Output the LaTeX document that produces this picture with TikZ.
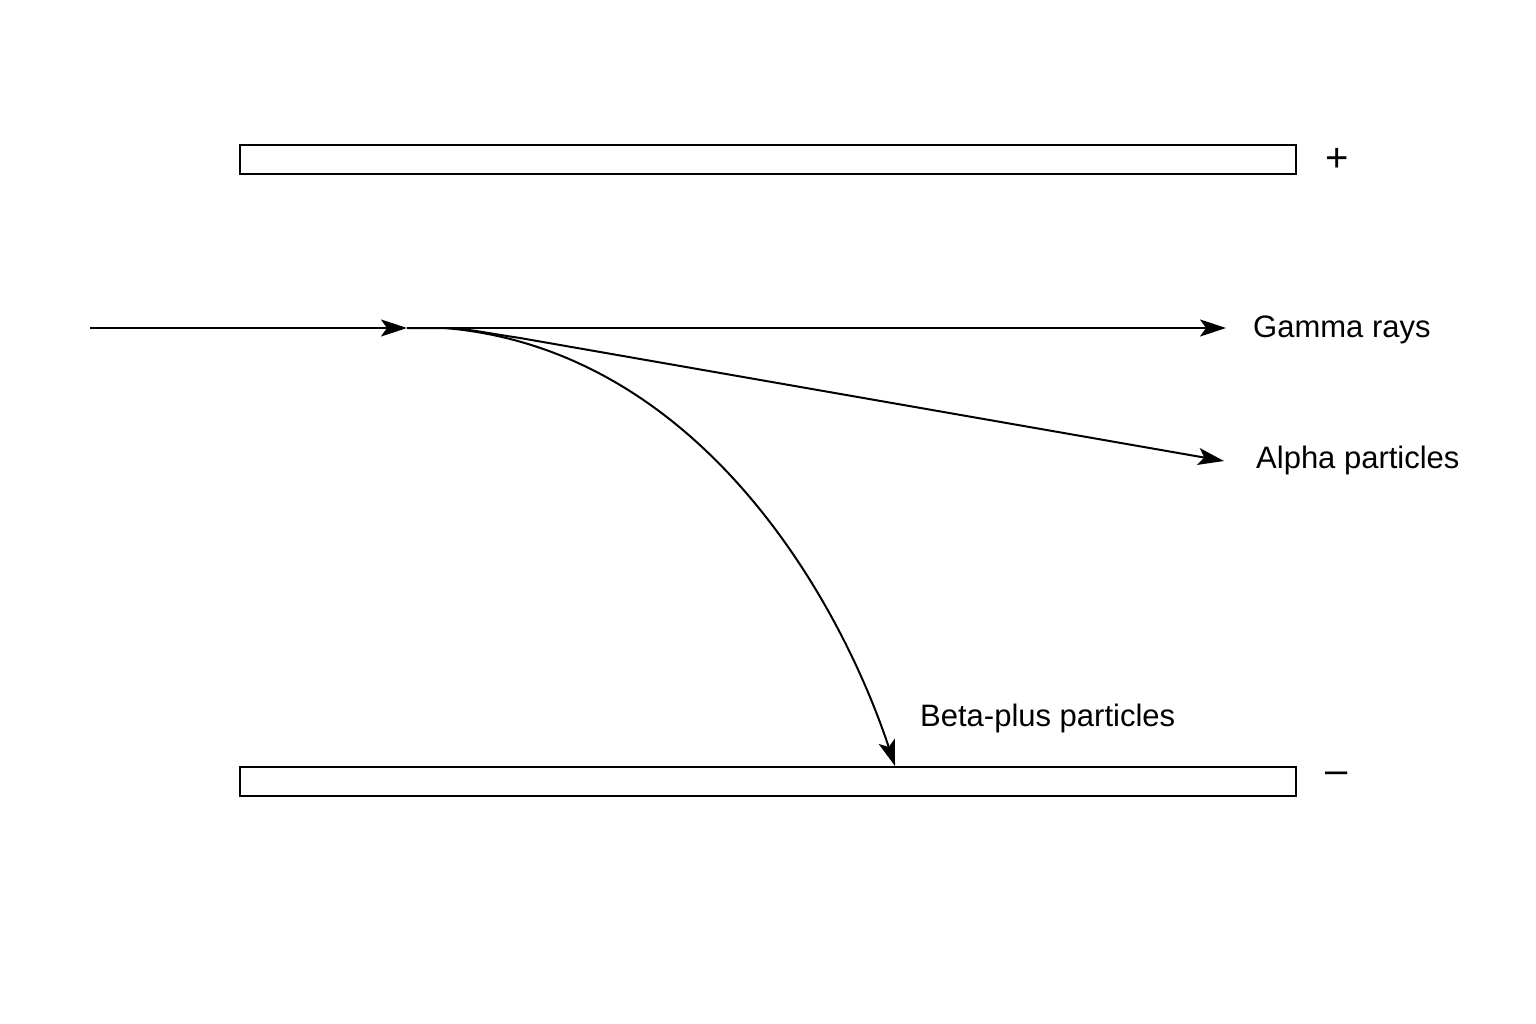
\documentclass[tikz,border=0pt]{standalone}
\usepackage{fontspec}
\setmainfont{Liberation Sans}
\usetikzlibrary{arrows.meta}
\begin{document}
\begin{tikzpicture}[x=1pt,y=-1pt,
  plate/.style={draw,line width=2pt,fill=white},
  ray/.style={line width=2pt,-{Stealth[length=26pt,width=17pt,inset=6pt]}},
  lab/.style={anchor=west,font=\fontsize{31}{36}\selectfont,inner sep=0pt}]
\useasboundingbox (0,0) rectangle (1536,1024);
\node[plate,minimum width=1056pt,minimum height=29pt,inner sep=0pt] (top) at (768,159.5) {};
\node[plate,minimum width=1056pt,minimum height=29pt,inner sep=0pt] (bot) at (768,781.5) {};
\node[font=\fontsize{40}{44}\selectfont] (plus) at (1337,160) {+};
\node[font=\fontsize{40}{44}\selectfont] (minus) at (1337,778) {–};
\coordinate (src) at (90,328);
\coordinate (split) at (407,328);
\coordinate (gend) at (1226,328);
\coordinate (aend) at (1224,461);
\coordinate (bend) at (895,766);
\node[lab] (g) at (1253,330) {Gamma rays};
\node[lab] (a) at (1256,460) {Alpha particles};
\node[lab] (b) at (920,718) {Beta-plus particles};
\draw[ray] (src) -- (split);
\draw[ray] (split) -- (gend);
\draw[ray] (split) -- (445,328) .. controls (470,329) and (480,332) .. (520,338) -- (aend);
\draw[ray] (445,328) .. controls (700,350) and (840,600) .. (bend);
\end{tikzpicture}
\end{document}
